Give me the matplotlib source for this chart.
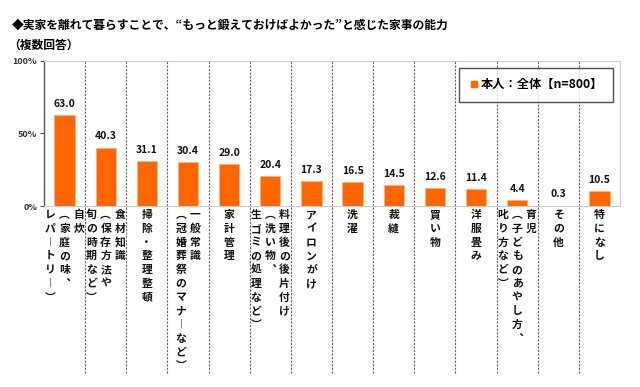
import matplotlib
matplotlib.use('Agg')
import matplotlib.pyplot as plt
from matplotlib.lines import Line2D

plt.rcParams['font.family'] = ['Noto Sans CJK JP', 'DejaVu Sans']

# label columns (vertical writing, right-to-left)
labels = [
    ['自炊', '︵家庭の味︑', 'レパートリー︶'],
    ['食材知識', '︵保存方法や', '旬の時期など︶'],
    ['掃除・整理整頓'],
    ['一般常識', '︵冠婚葬祭のマナーなど︶'],
    ['家計管理'],
    ['料理後の後片付け', '︵洗い物︑', '生ゴミの処理など︶'],
    ['アイロンがけ'],
    ['洗濯'],
    ['裁縫'],
    ['買い物'],
    ['洋服畳み'],
    ['育児', '︵子どものあやし方︑', '叱り方など︶'],
    ['その他'],
    ['特になし'],
]
values = [63.0, 40.3, 31.1, 30.4, 29.0, 20.4, 17.3, 16.5, 14.5, 12.6, 11.4, 4.4, 0.3, 10.5]
series_name = '本人：全体【n=800】'
title = '◆実家を離れて暮らすことで、“もっと鍛えておけばよかった”と感じた家事の能力'
subtitle = '（複数回答）'

orange = '#FF6600'
vert_map = {'ー': '︱'}

fig = plt.figure(figsize=(6.4, 3.87), dpi=100)
ax = fig.add_axes([0.06875, 0.4677, 0.9, 0.3747])

n = len(values)
x = list(range(n))
ax.bar(x, values, width=0.49, color=orange, edgecolor='#FFB380', linewidth=0.6, zorder=3)
ax.set_xlim(-0.5, n - 0.5)
ax.set_ylim(0, 100)
ax.set_yticks([0, 50, 100])
ax.set_yticklabels(['0%', '50%', '100%'], fontsize=6.5, fontweight='bold', color='#333333')
ax.set_xticks([])
ax.tick_params(axis='y', length=3, width=0.8, color='#555555', pad=2)

for s in ['top', 'right', 'bottom']:
    ax.spines[s].set_color('#cccccc')
    ax.spines[s].set_linewidth(0.8)
ax.spines['left'].set_color('#555555')
ax.spines['left'].set_linewidth(1.0)

# dashed separators reaching into the label area
for i in range(n - 1):
    ax.plot([i + 0.5, i + 0.5], [-115, 100], ls=(0, (2, 1.2)), color='#666666',
            lw=0.8, clip_on=False, zorder=1)

# value labels
for i, v in enumerate(values):
    ax.annotate(f'{v:.1f}', (i, v), xytext=(0, 8), textcoords='offset points',
                ha='center', va='center', fontsize=7.5, fontweight='bold', color='#111111')

# vertical category labels
col_gap = 10.2
pitch = 9.9
for i, cols in enumerate(labels):
    m = len(cols)
    for j, col in enumerate(cols):
        dx = ((m - 1) / 2 - j) * col_gap
        for k, ch in enumerate(col):
            ch = vert_map.get(ch, ch)
            ax.annotate(ch, (i, 0), xytext=(dx, -6.5 - k * pitch), textcoords='offset points',
                        ha='center', va='center', fontsize=7.8, fontweight='bold',
                        color='#111111', annotation_clip=False)

handle = Line2D([], [], marker='s', ls='none', color=orange, markersize=5)
leg = ax.legend([handle], [series_name], loc='upper right', bbox_to_anchor=(0.988, 0.952),
                frameon=True, fancybox=False, edgecolor='#222222',
                prop={'weight': 'bold', 'size': 8.8}, handlelength=0.6, handletextpad=0.25,
                borderpad=0.5, borderaxespad=0)
leg.get_frame().set_linewidth(1.0)
leg._legend_box.sep = 0
leg._legend_box.pad = 7.5

fig.text(12 / 640, 1 - 25 / 387, title, fontsize=8.5, fontweight='bold', va='center', ha='left')
fig.text(8 / 640, 1 - 45 / 387, subtitle, fontsize=8.5, fontweight='bold', va='center', ha='left')

fig.savefig('out.png', dpi=100)
